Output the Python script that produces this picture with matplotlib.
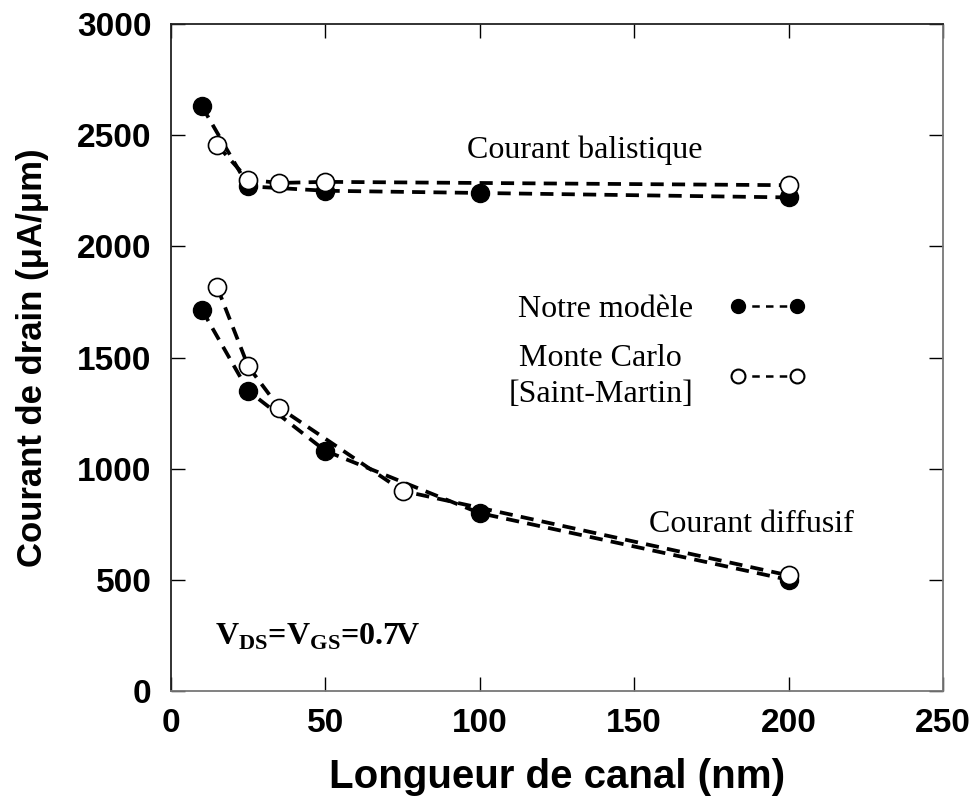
import matplotlib
matplotlib.use("Agg")
import matplotlib.pyplot as plt
from matplotlib.lines import Line2D

# ballistic current (upper curves)
bal_model_L = [10, 25, 50, 100, 200]
bal_model_I = [2630, 2270, 2250, 2240, 2220]
bal_mc_L = [15, 25, 35, 50, 200]
bal_mc_I = [2455, 2300, 2285, 2290, 2275]

# diffusive current (lower curves)
dif_model_L = [10, 25, 50, 100, 200]
dif_model_I = [1715, 1350, 1080, 800, 500]
dif_mc_L = [15, 25, 35, 75, 200]
dif_mc_I = [1815, 1460, 1275, 900, 520]

xticks = [0, 50, 100, 150, 200, 250]
yticks = [0, 500, 1000, 1500, 2000, 2500, 3000]

serif = "Liberation Serif"
sans = "Liberation Sans"

plt.rcParams["mathtext.fontset"] = "custom"
plt.rcParams["mathtext.rm"] = "Liberation Serif"
plt.rcParams["mathtext.bf"] = "Liberation Serif:bold"

fig = plt.figure(figsize=(9.69, 8), dpi=100)
ax = fig.add_axes([171/969, 1 - 691/800, (943-171)/969, (691-24)/800])

dash = (0, (3.5, 2.2))
lw = 2.7
ms = 13

ax.plot(bal_model_L, bal_model_I, color="black", ls=dash, lw=lw, zorder=2)
ax.plot(bal_mc_L, bal_mc_I, color="black", ls=dash, lw=lw, zorder=2)
ax.plot(dif_model_L, dif_model_I, color="black", ls=dash, lw=lw, zorder=2)
ax.plot(dif_mc_L, dif_mc_I, color="black", ls=dash, lw=lw, zorder=2)

ax.plot(bal_model_L, bal_model_I, "o", color="black", ms=ms, zorder=3)
ax.plot(dif_model_L, dif_model_I, "o", color="black", ms=ms, zorder=3)
ax.plot(bal_mc_L, bal_mc_I, "o", mfc="white", mec="black", mew=1.2, ms=ms, zorder=4)
ax.plot(dif_mc_L, dif_mc_I, "o", mfc="white", mec="black", mew=1.2, ms=ms, zorder=4)

ax.set_xlim(0, 250)
ax.set_ylim(0, 3000)
ax.set_xticks(xticks)
ax.set_yticks(yticks)
ax.tick_params(direction="in", length=10, width=1, top=True, right=True,
               labelsize=24)
ax.tick_params(axis="x", pad=12)
ax.tick_params(axis="y", pad=14)
for lab in ax.get_xticklabels() + ax.get_yticklabels():
    lab.set_fontfamily(sans)
    lab.set_fontweight("bold")

for side in ["top", "left"]:
    ax.spines[side].set_color("#222222")
for side in ["bottom", "right"]:
    ax.spines[side].set_color("#777777")
for s in ax.spines.values():
    s.set_linewidth(1.3)

ax.set_xlabel("Longueur de canal (nm)", fontsize=29, fontweight="bold",
              family=sans, labelpad=14)
ax.set_ylabel("Courant de drain (\u03bcA/\u03bcm)", fontsize=25, fontweight="bold",
              family=sans, labelpad=20)

ax.text(134, 2430, "Courant balistique", fontsize=23, family=serif,
        ha="center", va="center")
ax.text(188, 750, "Courant diffusif", fontsize=23, family=serif,
        ha="center", va="center")
ax.text(47.5, 245, r"V$_\mathbf{DS}$=V$_\mathbf{GS}$=0.7V", fontsize=23,
        family=serif, fontweight="bold", ha="center", va="center")

handles = [
    Line2D([0], [0], color="black", ls=(0, (3, 2.5)), lw=1.8, marker="o",
           ms=10, mfc="black", mec="black"),
    Line2D([0], [0], color="black", ls=(0, (3, 2.5)), lw=1.8, marker="o",
           ms=10, mfc="white", mec="black", mew=1.5),
]
leg = ax.legend(handles, ["Notre modèle", "Monte Carlo\n[Saint-Martin]"],
                loc="center", bbox_to_anchor=(0.63, 0.508), markerfirst=False,
                frameon=False, numpoints=2, handlelength=2.45,
                handletextpad=1.1, labelspacing=0.6,
                prop={"family": serif, "size": 23})
for t in leg.get_texts():
    t.set_ha("center")
    t.set_linespacing(1.35)

fig.savefig("out.png", dpi=100)
